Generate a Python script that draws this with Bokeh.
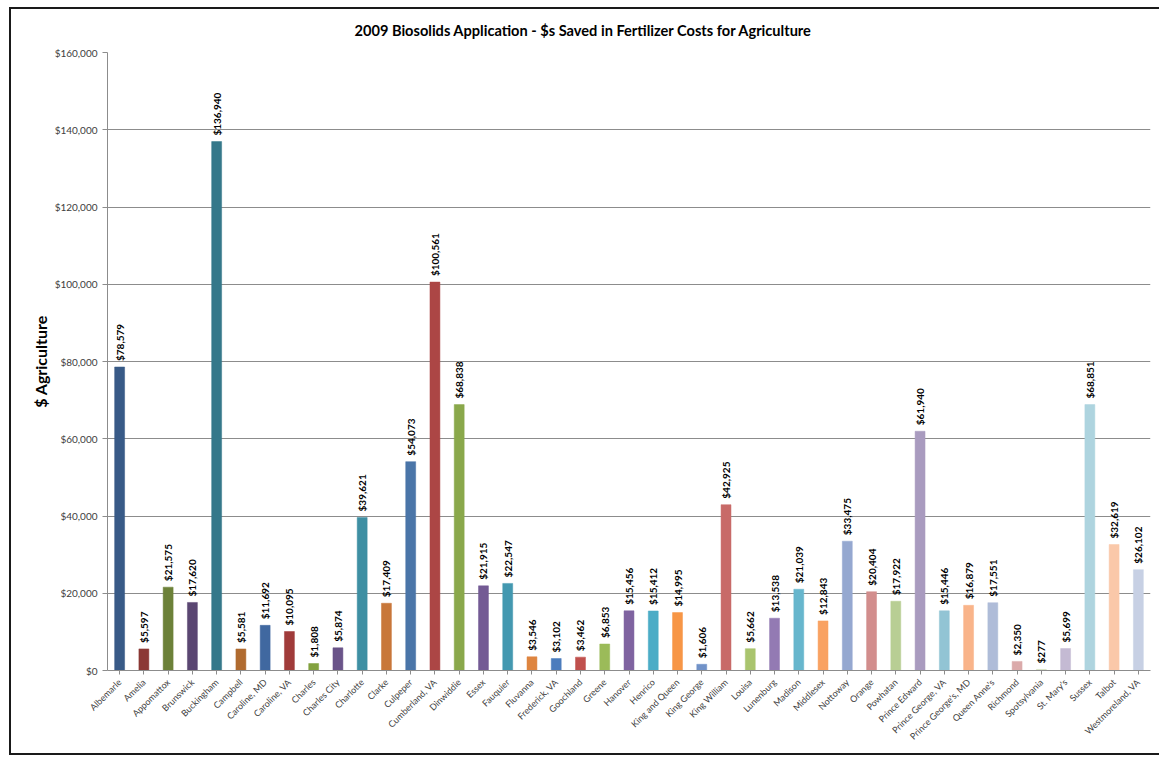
from math import pi
from bokeh.plotting import figure
from bokeh.models import (ColumnDataSource, FactorRange, Range1d, FixedTicker,
                          NumeralTickFormatter)
from bokeh.embed import file_html
from bokeh.resources import INLINE
from bokeh.core.properties import value

counties = ["Albemarle", "Amelia", "Appomattox", "Brunswick", "Buckingham", "Campbell",
            "Caroline, MD", "Caroline, VA", "Charles", "Charles City", "Charlotte", "Clarke",
            "Culpeper", "Cumberland, VA", "Dinwiddie", "Essex", "Fauquier", "Fluvanna",
            "Frederick, VA", "Goochland", "Greene", "Hanover", "Henrico", "King and Queen",
            "King George", "King William", "Louisa", "Lunenburg", "Madison", "Middlesex",
            "Nottoway", "Orange", "Powhatan", "Prince Edward", "Prince George, VA",
            "Prince George's, MD", "Queen Anne's", "Richmond", "Spotsylvania", "St. Mary's",
            "Sussex", "Talbot", "Westmoreland, VA"]

savings = [78579, 5597, 21575, 17620, 136940, 5581,
           11692, 10095, 1808, 5874, 39621, 17409,
           54073, 100561, 68838, 21915, 22547, 3546,
           3102, 3462, 6853, 15456, 15412, 14995,
           1606, 42925, 5662, 13538, 21039, 12843,
           33475, 20404, 17922, 61940, 15446,
           16879, 17551, 2350, 277, 5699,
           68851, 32619, 26102]

y_ticks = [0, 20000, 40000, 60000, 80000, 100000, 120000, 140000, 160000]

bar_colors = ["#385A87", "#8B3835", "#6C8139", "#5A4672", "#35788A", "#B06B30",
              "#4068A0", "#A03B3A", "#83A23F", "#6A5489", "#3E8FA3", "#C8773A",
              "#4A75A8", "#AC4645", "#8AA84B", "#735A94", "#4398B0", "#DE8540",
              "#4C7CBD", "#C0504D", "#9BBB59", "#7F63A0", "#4BACC6", "#F79646",
              "#7192C8", "#C86A68", "#A9C46E", "#937AB3", "#67B6CD", "#F9A262",
              "#95A8D0", "#D28E8D", "#B8CE94", "#A99BBF", "#92C4D4", "#F9B48A",
              "#AFBCD8", "#DBAAAA", "#CCDAB3", "#C4BAD3", "#AED4DF", "#FAC8A9",
              "#C7D0E4"]

labels = ["${:,}".format(v) for v in savings]
src = ColumnDataSource(dict(county=counties, savings=savings, color=bar_colors, label=labels))

p = figure(x_range=FactorRange(factors=counties, range_padding=0),
           y_range=Range1d(0, 160000),
           width=1150, height=748, output_backend="svg", toolbar_location=None,
           min_border_left=96, min_border_right=11, min_border_top=42,
           min_border_bottom=87)
p.styles = {"margin-left": "9px", "margin-top": "7px",
            "border-left": "2px solid #1A1A1A", "border-top": "2px solid #1A1A1A",
            "border-bottom": "2px solid #1A1A1A"}

p.title.text = "2009 Biosolids Application - $s Saved in Fertilizer Costs for Agriculture"
p.title.align = "left"
p.title.vertical_align = "top"
p.title.offset = 247
p.title.standoff = 24
p.title.text_line_height = 1.0
p.title.text_font = "Lato"
p.title.text_font_size = "14.6px"
p.title.text_font_style = "bold"
p.title.text_color = "black"

p.vbar(x="county", top="savings", width=0.41, source=src, fill_color="color",
       line_color="color", line_width=0.5)

p.text(x="county", y="savings", text="label", source=src, angle=pi / 2,
       text_align="left", text_baseline="middle", y_offset=-6,
       text_font=value("Lato"), text_font_style="bold", text_font_size="10px",
       text_color="black")

p.outline_line_color = None
p.xgrid.grid_line_color = None
p.ygrid.grid_line_color = "#8C8C8C"
p.ygrid.grid_line_width = 1
p.yaxis.ticker = FixedTicker(ticks=y_ticks)
p.yaxis.formatter = NumeralTickFormatter(format="$0,0")
p.yaxis.axis_label = "$ Agriculture"
p.yaxis.axis_label_text_font = "Lato"
p.yaxis.axis_label_text_font_size = "16px"
p.yaxis.axis_label_text_font_style = "bold"
p.yaxis.axis_label_text_color = "black"
p.yaxis.axis_label_standoff = 2
p.yaxis.major_label_text_font = "Lato"
p.yaxis.major_label_text_font_size = "10px"
p.yaxis.major_label_text_color = "#404040"
p.yaxis.major_label_standoff = 5
p.yaxis.minor_tick_line_color = None
p.yaxis.major_tick_in = 0
p.yaxis.major_tick_out = 5
p.yaxis.axis_line_color = "#8C8C8C"
p.yaxis.major_tick_line_color = "#8C8C8C"

p.xaxis.major_label_orientation = pi / 4
p.xaxis.major_label_text_font = "Lato"
p.xaxis.major_label_text_font_size = "9px"
p.xaxis.major_label_text_color = "#404040"
p.xaxis.major_label_standoff = 6
p.xaxis.major_tick_in = 0
p.xaxis.major_tick_out = 4
p.xaxis.axis_line_color = "#8C8C8C"
p.xaxis.major_tick_line_color = "#8C8C8C"

open("out.html", "w").write(file_html(p, INLINE))
